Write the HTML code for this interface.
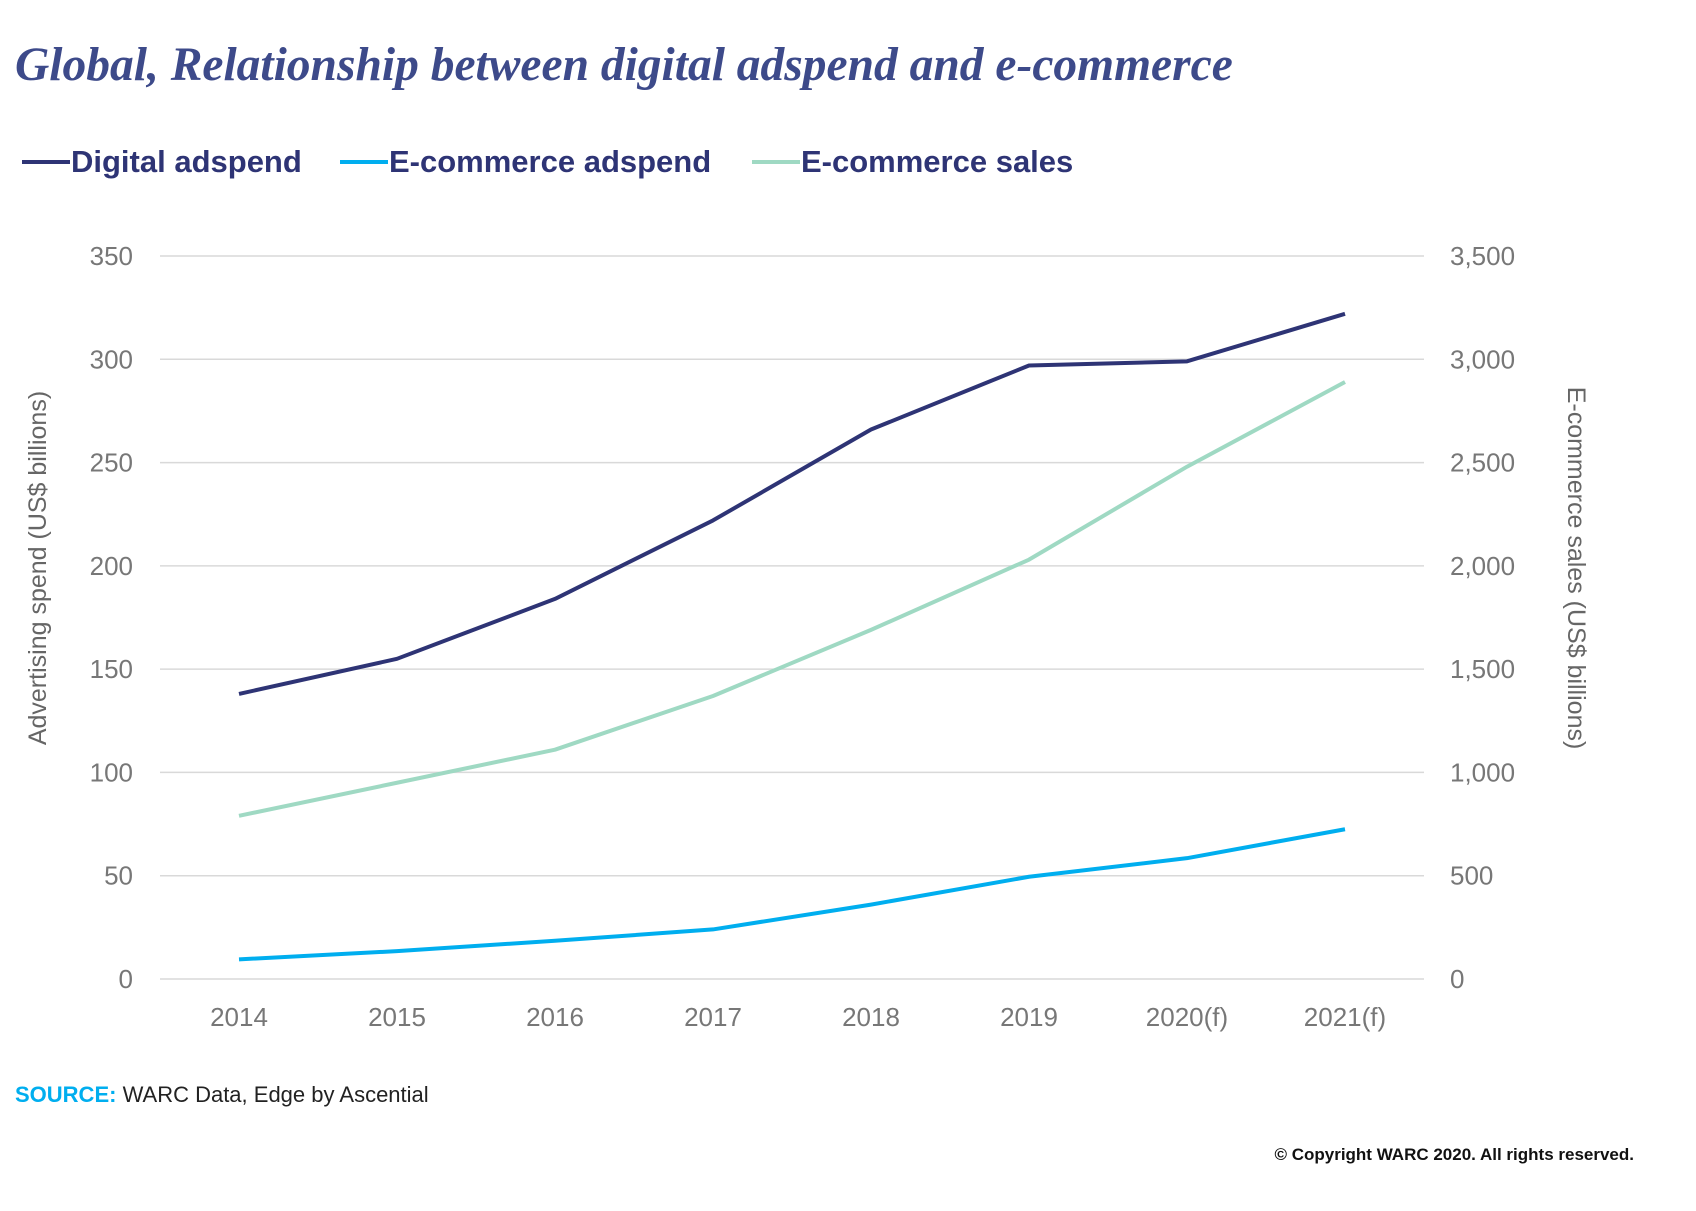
<!DOCTYPE html>
<html><head><meta charset="utf-8"><style>
body{margin:0;background:#fff;width:1696px;height:1206px;overflow:hidden;font-family:"Liberation Sans",sans-serif}
</style></head><body>
<svg width="1696" height="1206" xmlns="http://www.w3.org/2000/svg">
<text x="15" y="80" font-family="Liberation Serif" font-style="italic" font-weight="bold" font-size="47.5" fill="#3d4a8a">Global, Relationship between digital adspend and e-commerce</text>
<g font-size="31" font-weight="bold" fill="#2e3475">
<g><line x1="22" y1="162" x2="70" y2="162" stroke="#2e3475" stroke-width="4"/><text x="71" y="172">Digital adspend</text></g>
<g><line x1="340" y1="162" x2="388" y2="162" stroke="#00aeef" stroke-width="4"/><text x="389" y="172">E-commerce adspend</text></g>
<g><line x1="752" y1="162" x2="800" y2="162" stroke="#9fd9c3" stroke-width="4"/><text x="801" y="172">E-commerce sales</text></g>
</g>
<g id="grid"></g>
<g id="ticks" font-size="26" fill="#777"></g>
<g id="series"></g>
<text transform="translate(46,568) rotate(-90)" text-anchor="middle" font-size="25" fill="#666">Advertising spend (US$ billions)</text>
<text transform="translate(1568,568) rotate(90)" text-anchor="middle" font-size="25" fill="#666">E-commerce sales (US$ billions)</text>
<text x="15" y="1102" font-size="22" fill="#222"><tspan font-weight="bold" fill="#00aeef">SOURCE:</tspan> WARC Data, Edge by Ascential</text>
<text x="1634" y="1160" text-anchor="end" font-size="17" font-weight="bold" fill="#111">© Copyright WARC 2020. All rights reserved.</text>
</svg>
<script>
const categories=["2014","2015","2016","2017","2018","2019","2020(f)","2021(f)"];
const digitalAdspend=[138,155,184,222,266,297,299,322];
const ecomAdspend=[9.5,13.5,18.5,24,36,49.5,58.5,72.5];
const ecomSales=[790,950,1110,1370,1690,2030,2480,2890];
const leftTicks=[0,50,100,150,200,250,300,350];
const rightTicks=["0","500","1,000","1,500","2,000","2,500","3,000","3,500"];
const NS="http://www.w3.org/2000/svg";
const X0=160,X1=1424,Y0=979,Y1=256;
const yL=v=>Y0-(v/350)*(Y0-Y1);
const yR=v=>Y0-(v/3500)*(Y0-Y1);
const step=(X1-X0)/categories.length;
const x=i=>X0+step*(i+0.5);
function mk(t,a,p){const e=document.createElementNS(NS,t);for(const k in a)e.setAttribute(k,a[k]);p.appendChild(e);return e;}
const grid=document.getElementById('grid'),ticks=document.getElementById('ticks'),series=document.getElementById('series');
leftTicks.forEach((v,i)=>{
 const l=mk('line',{x1:X0,x2:X1,y1:yL(v),y2:yL(v),stroke:'#d9d9d9','stroke-width':1.5},grid);
 
 
 const t=mk('text',{x:133,y:yL(v)+9,'text-anchor':'end'},ticks);t.textContent=v;
 
 
 const r=mk('text',{x:1450,y:yL(v)+9},ticks);r.textContent=rightTicks[i];
 
 
});
categories.forEach((c,i)=>{
 const t=mk('text',{x:x(i),y:1026,'text-anchor':'middle'},ticks);t.textContent=c;
 
 
});
function line(vals,f,color,name){
 const p=mk('polyline',{points:vals.map((v,i)=>x(i)+','+f(v)).join(' '),fill:'none',stroke:color,'stroke-width':4,'stroke-linejoin':'round'},series);
 
 
}
line(ecomSales,yR,'#9fd9c3','line-ecommerce-sales');
line(ecomAdspend,yL,'#00aeef','line-ecommerce-adspend');
line(digitalAdspend,yL,'#2e3475','line-digital-adspend');
</script>
</body></html>
